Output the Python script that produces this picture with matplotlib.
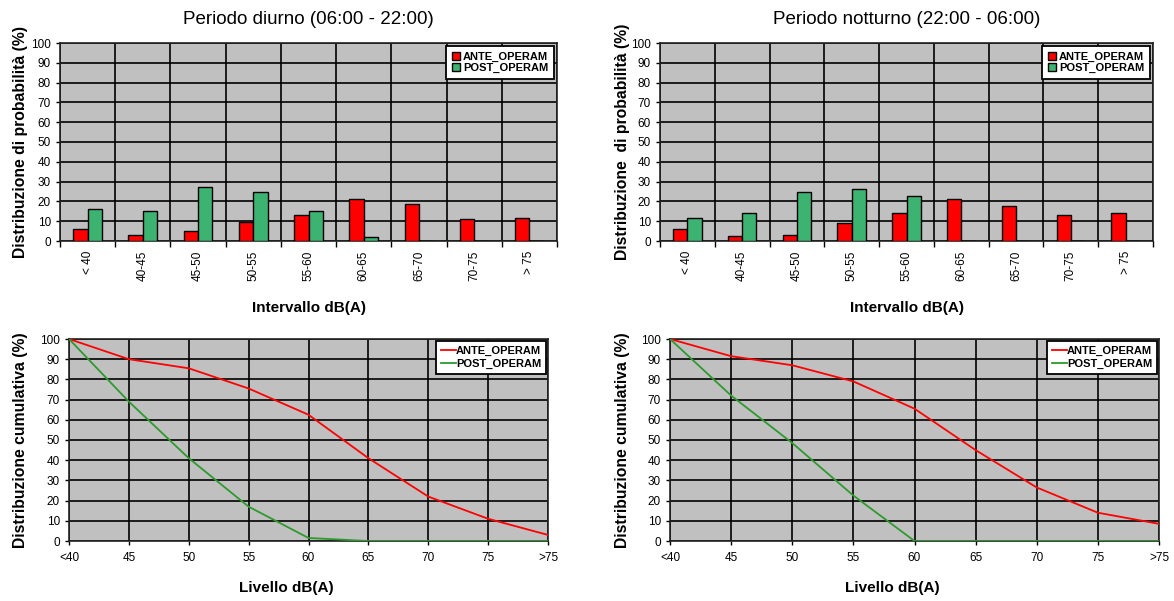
import numpy as np
import matplotlib.pyplot as plt

plt.rcParams['font.family'] = ['Liberation Sans', 'DejaVu Sans']

# --- data ---
intervalli = ['< 40', '40-45', '45-50', '50-55', '55-60', '60-65', '65-70', '70-75', '> 75']
livelli = ['<40', '45', '50', '55', '60', '65', '70', '75', '>75']

diurno_ante = [6, 3, 5, 9.5, 13, 21, 18.5, 11, 11.5]
diurno_post = [16, 15, 27.5, 25, 15, 2, 0, 0, 0]
notturno_ante = [6, 2.5, 3, 9, 14, 21, 17.5, 13, 14]
notturno_post = [11.5, 14, 24.5, 26.5, 22.5, 0, 0, 0, 0]

cum_diurno_ante = [100, 90, 85.5, 75.5, 62.5, 41, 22, 11, 3]
cum_diurno_post = [100, 69, 41, 17, 1.5, 0, 0, 0, 0]
cum_notturno_ante = [100, 91.5, 87, 79, 65.5, 45, 26.5, 14, 8.5]
cum_notturno_post = [100, 72, 48.5, 22.5, 0, 0, 0, 0, 0]

RED = '#ff0000'
GREEN = '#3cb371'
LGREEN = '#2e9a2e'
GRAY = '#c0c0c0'

W, H = 1174, 601
fig = plt.figure(figsize=(W / 100, H / 100), dpi=100)


def px_axes(x0, y0, x1, y1):
    # pixel box (top-left origin) -> figure axes
    return fig.add_axes([x0 / W, 1 - y1 / H, (x1 - x0) / W, (y1 - y0) / H])


def style_axes(ax):
    ax.set_facecolor(GRAY)
    ax.set_ylim(0, 100)
    ax.set_yticks(range(0, 101, 10))
    ax.tick_params(axis='both', labelsize=8.5, length=3, width=1)
    for s in ax.spines.values():
        s.set_linewidth(1.2)
        s.set_color('#222222')


def set_ylabel_px(ax, text, xpx, box):
    ax.set_ylabel(text, fontsize=11.3, fontweight='bold')
    ax.yaxis.set_label_coords((xpx + 9 - box[0]) / (box[2] - box[0]), 0.5)


def bar_panel(box, ante, post, title, ylabel, ylab_x):
    ax = px_axes(*box)
    style_axes(ax)
    x = np.arange(len(intervalli))
    w = 0.26
    ax.bar(x - w / 2, ante, w, color=RED, edgecolor='black', linewidth=1, label='ANTE_OPERAM', zorder=3)
    ax.bar(x + w / 2, post, w, color=GREEN, edgecolor='black', linewidth=1, label='POST_OPERAM', zorder=3)
    ax.set_xlim(-0.5, len(intervalli) - 0.5)
    ax.set_xticks(x)
    ax.set_xticklabels(intervalli, rotation=90)
    ax.set_xticks(np.arange(-0.5, len(intervalli)), minor=True)
    ax.tick_params(axis='x', which='major', length=0, pad=7)
    ax.tick_params(axis='x', which='minor', length=4, width=1)
    ax.grid(True, which='minor', axis='x', color='black', lw=1.2, zorder=1)
    ax.grid(True, which='major', axis='y', color='black', lw=1.2, zorder=1)
    ax.set_title(title, fontsize=13.5, pad=14)
    set_ylabel_px(ax, ylabel, ylab_x, box)
    ax.set_xlabel('Intervallo dB(A)', fontsize=11, fontweight='bold', labelpad=14)
    leg = ax.legend(loc='upper right', prop={'weight': 'bold', 'size': 8},
                    fancybox=False, framealpha=1, edgecolor='black',
                    handlelength=0.7, handleheight=0.7, handletextpad=0.3,
                    borderaxespad=0.3, labelspacing=0.1, borderpad=0.5)
    leg.get_frame().set_linewidth(1.3)
    return ax


def line_panel(box, ante, post, ylabel, ylab_x, xlab_x):
    ax = px_axes(*box)
    style_axes(ax)
    x = np.arange(len(livelli))
    ax.plot(x, ante, color=RED, lw=1.3, label='ANTE_OPERAM', zorder=3)
    ax.plot(x, post, color=LGREEN, lw=1.3, label='POST_OPERAM', zorder=3)
    ax.set_xlim(0, len(livelli) - 1)
    ax.set_xticks(x)
    ax.set_xticklabels(livelli)
    ax.tick_params(axis='x', pad=5)
    ax.grid(True, color='black', lw=1.2, zorder=1)
    set_ylabel_px(ax, ylabel, ylab_x, box)
    ax.set_xlabel('Livello dB(A)', fontsize=11, fontweight='bold')
    ax.xaxis.set_label_coords((xlab_x - box[0]) / (box[2] - box[0]), -0.235)
    ax.xaxis.label.set_va('center')
    leg = ax.legend(loc='upper right', prop={'weight': 'bold', 'size': 8},
                    fancybox=False, framealpha=1, edgecolor='black',
                    handlelength=1.4, handletextpad=0.0,
                    borderaxespad=0.15, labelspacing=0.25, borderpad=0.45)
    leg.get_frame().set_linewidth(1.3)
    return ax


bar_panel((60, 43, 557, 241), diurno_ante, diurno_post,
          'Periodo diurno (06:00 - 22:00)', 'Distribuzione di probabilità (%)', 19)
bar_panel((660, 43, 1153, 241), notturno_ante, notturno_post,
          'Periodo notturno (22:00 - 06:00)', 'Distribuzione  di probabilità (%)', 621)
line_panel((69, 339, 548, 541), cum_diurno_ante, cum_diurno_post,
           'Distribuzione cumulativa (%)', 19, 286)
line_panel((670, 339, 1159, 541), cum_notturno_ante, cum_notturno_post,
           'Distribuzione cumulativa (%)', 621, 892)

fig.savefig('out.png', dpi=100)
